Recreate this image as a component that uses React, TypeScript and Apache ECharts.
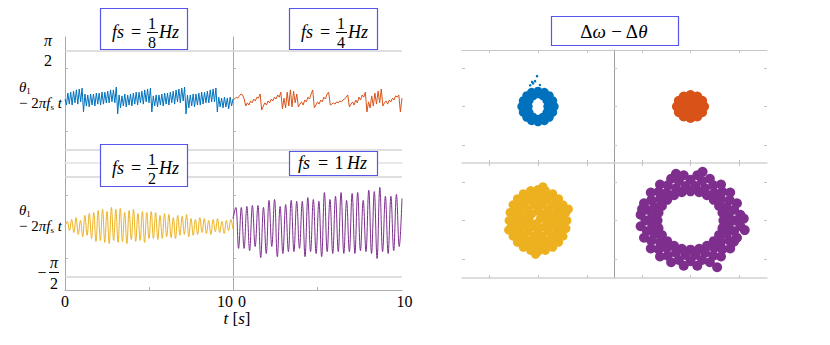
import React, { useEffect, useRef } from 'react';
import * as echarts from 'echarts';

const SERIF = '"Liberation Serif", "DejaVu Serif", serif';
const BOX = '#5656ee';

// time axis (s)
const timeSpan = [0, 10];
const timeTickLabels = [0, 10];
const timeInnerTicks = [5];
const thetaTicks = [-1, 1];
const halfPi = Math.PI / 2;

const blueTheta = [
  0.03, -0.16, 0.22, -0.13, 0.25, -0.16, 0.28, -0.09, 0.32, -0.13, 0.35, -0.06, 0.38, -0.38,
  0.19, -0.19, 0.16, -0.22, 0.19, -0.16, 0.19, -0.19, 0.22, -0.13, 0.22, -0.16, 0.25, -0.13, 0.25, -0.09, 0.28, -0.09, 0.32, -0.06, 0.32, -0.09, 0.41, -0.44,
  0.16, -0.25, 0.13, -0.19, 0.19, -0.22, 0.16, -0.16, 0.19, -0.19, 0.22, -0.13, 0.25, -0.16, 0.25, -0.09, 0.28, -0.13, 0.32, -0.06, 0.35, -0.09, 0.38, -0.38,
  0.13, -0.19, 0.16, -0.22, 0.16, -0.16, 0.19, -0.19, 0.22, -0.13, 0.22, -0.16, 0.25, -0.09, 0.28, -0.13, 0.32, -0.06, 0.35, -0.09, 0.38, -0.03, 0.41, -0.44,
  0.16, -0.25, 0.16, -0.19, 0.19, -0.22, 0.19, -0.16, 0.22, -0.16, 0.25, -0.13, 0.25, -0.09, 0.28, -0.09, 0.32, -0.06, 0.35, -0.06, 0.38, -0.38,
  0.09, -0.22, 0.06, -0.25, 0.09, -0.22, 0.06, -0.28, 0.09, -0.19, 0.03,
];
const orangeTheta = [
  0, 0.03, 0.09, 0.06, 0.13, 0.19, 0.16, 0.03, -0.19,
  -0.09, -0.16, -0.03, -0.09, 0.03, -0.03, 0.09, 0.06, 0.19, -0.32,
  -0.19, -0.09, -0.16, -0.03, -0.09, 0.03, -0.03, 0.09, 0.03, 0.16, 0.09, 0.25, -0.28,
  0.06, -0.25, 0.25, -0.19, 0.32, -0.22, 0.28, -0.09, 0.19, -0.22,
  -0.13, -0.06, -0.16, 0, -0.06, 0.09, 0.03, 0.19, 0.32, -0.25,
  -0.16, -0.06, -0.13, 0, -0.06, 0.09, 0.03, 0.19, 0.25, -0.16,
  -0.13, -0.09, -0.13, -0.06, -0.09, -0.03, -0.06, 0, 0.03, 0.09, 0.16, -0.22,
  -0.13, -0.06, -0.16, 0, -0.09, 0.09, 0, 0.16, 0.09, 0.25, -0.38,
  -0.06, -0.25, 0.13, -0.19, 0.22, -0.13, 0.28, -0.09, 0.35, -0.19,
  -0.09, -0.03, -0.13, 0, -0.06, 0.06, 0, 0.13, 0.09, 0.16, -0.38, 0.06,
];
const yellowTheta = [
  0, 0.16, -0.13, 0.22, -0.19, 0.28, -0.25, 0.19, -0.32, 0.35,
  -0.28, 0.41, -0.38, 0.44, -0.47, 0.5, -0.44, 0.54, -0.5, 0.47,
  -0.54, 0.6, -0.44, 0.54, -0.5, 0.57, -0.47, 0.44, -0.54, 0.5,
  -0.41, 0.54, -0.47, 0.41, -0.44, 0.47, -0.5, 0.44, -0.38, 0.47,
  -0.38, 0.44, -0.41, 0.35, -0.38, 0.41, -0.32, 0.38, -0.35, 0.28,
  -0.38, 0.35, -0.28, 0.32, -0.25, 0.38, -0.32, 0.25, -0.28, 0.22,
  -0.25, 0.28, -0.19, 0.25, -0.22, 0.19, -0.25, 0.22, -0.16, 0.25,
  -0.19, 0.16, -0.22, 0.19, -0.13, 0.22, -0.09,
];
const purpleTheta = [
  0.25, 0.6, -0.69, 0.6, -0.69, 0.63, -0.76, 0.66, -0.63, 0.66,
  -0.98, 0.6, -0.85, 0.82, -0.63, 0.85, -0.95, 0.63, -0.85, 0.69,
  -0.79, 0.82, -0.79, 0.79, -0.69, 0.79, -0.95, 0.91, -0.79, 0.85,
  -0.85, 0.79, -0.95, 1.07, -0.79, 0.85, -0.85, 0.95, -0.79, 1.07,
  -0.85, 0.82, -0.79, 1.04, -0.85, 1.07, -0.76, 0.82, -0.79, 1.14,
  -0.85, 1.1, -1.01, 1.23, -0.79, 0.95, -0.85, 0.95, -0.76, 1.01,
  -0.63, 0.88,
];

// phase-plane clouds (Δθ, Δω)
const blueCloudX = [0.2, 0.18, 0.1, 0, -0.1, -0.18, -0.2, -0.18, -0.1, 0, 0.1, 0.18,
  0.33, 0.3, 0.23, 0.13, 0, -0.13, -0.23, -0.3, -0.33, -0.3, -0.23, -0.13, 0, 0.13, 0.23, 0.3];
const blueCloudY = [0, 0.16, 0.28, 0.33, 0.28, 0.16, 0, -0.16, -0.28, -0.33, -0.28, -0.16,
  0, 0.15, 0.28, 0.37, 0.4, 0.37, 0.28, 0.15, 0, -0.15, -0.28, -0.37, -0.4, -0.37, -0.28, -0.15];
const blueStrayX = [-0.12, -0.1, -0.06, -0.02, -0.16, 0.04];
const blueStrayY = [0.64, 0.6, 0.66, 0.79, 0.55, 0.56];

const orangeCloudX = [0, 0.14, 0.07, -0.07, -0.14, -0.07, 0.07,
  0.28, 0.24, 0.14, 0, -0.14, -0.24, -0.28, -0.24, -0.14, 0, 0.14, 0.24];
const orangeCloudY = [0, 0, 0.14, 0.14, 0, -0.14, -0.14,
  0, 0.15, 0.26, 0.3, 0.26, 0.15, 0, -0.15, -0.26, -0.3, -0.26, -0.15];

const yellowCloudX = [
  0.18, 0.13, 0, -0.13, -0.18, -0.13, 0, 0.13,
  0.29, 0.21, 0.08, -0.08, -0.21, -0.29, -0.29, -0.21, -0.08, 0.08, 0.21, 0.29,
  0.41, 0.38, 0.29, 0.16, 0, -0.16, -0.29, -0.38, -0.41, -0.38, -0.29, -0.16, 0, 0.16, 0.29, 0.38,
  0.5, 0.45, 0.36, 0.23, 0.08, -0.08, -0.23, -0.36, -0.45, -0.5, -0.5, -0.45, -0.36, -0.23, -0.08, 0.08, 0.23, 0.36, 0.45, 0.5,
  0.59, 0.57, 0.51, 0.42, 0.3, 0.15, 0, -0.15, -0.3, -0.42, -0.51, -0.57, -0.59, -0.57, -0.51, -0.42, -0.3, -0.15, 0, 0.15, 0.3, 0.42, 0.51, 0.57,
  0.05, -0.03, 0.62, -0.6, 0.1, -0.05,
];
const yellowCloudY = [
  0, 0.17, 0.24, 0.17, 0, -0.17, -0.24, -0.17,
  0.11, 0.29, 0.4, 0.4, 0.29, 0.11, -0.11, -0.29, -0.4, -0.4, -0.29, -0.11,
  0, 0.22, 0.4, 0.52, 0.57, 0.52, 0.4, 0.22, 0, -0.22, -0.4, -0.52, -0.57, -0.52, -0.4, -0.22,
  0.11, 0.31, 0.49, 0.61, 0.68, 0.68, 0.61, 0.49, 0.31, 0.11, -0.11, -0.31, -0.49, -0.61, -0.68, -0.68, -0.61, -0.49, -0.31, -0.11,
  0, 0.21, 0.41, 0.57, 0.7, 0.78, 0.81, 0.78, 0.7, 0.57, 0.41, 0.21, 0, -0.21, -0.41, -0.57, -0.7, -0.78, -0.81, -0.78, -0.7, -0.57, -0.41, -0.21,
  0.05, -0.08, 0.3, -0.25, 0.88, -0.88,
];

const purpleCloudX = [
  0.68, 0.66, 0.59, 0.48, 0.34, 0.18, 0, -0.18, -0.34, -0.48, -0.59, -0.66, -0.68, -0.66, -0.59, -0.48, -0.34, -0.18, 0, 0.18, 0.34, 0.48, 0.59, 0.66,
  0.79, 0.74, 0.63, 0.49, 0.3, 0.1, -0.1, -0.3, -0.49, -0.63, -0.74, -0.79, -0.79, -0.74, -0.63, -0.49, -0.3, -0.1, 0.1, 0.3, 0.49, 0.63, 0.74, 0.79,
  0.93, 0.9, 0.81, 0.66, 0.47, 0.24, 0, -0.24, -0.47, -0.66, -0.81, -0.9, -0.93, -0.9, -0.81, -0.66, -0.47, -0.24, 0, 0.24, 0.47, 0.66, 0.81, 0.9,
  1.03, 0.96, 0.82, 0.63, 0.4, 0.14, -0.14, -0.4, -0.63, -0.82, -0.96, -1.03, -1.03, -0.96, -0.82, -0.63, -0.4, -0.14, 0.14, 0.4, 0.63, 0.82, 0.96, 1.03,
  1.1, 1.12, 0.25, -0.3, 0.55, -1.0, 0.9,
];
const purpleCloudY = [
  0, 0.2, 0.38, 0.54, 0.66, 0.74, 0.76, 0.74, 0.66, 0.54, 0.38, 0.2, 0, -0.2, -0.38, -0.54, -0.66, -0.74, -0.76, -0.74, -0.66, -0.54, -0.38, -0.2,
  0.12, 0.35, 0.56, 0.72, 0.84, 0.9, 0.9, 0.84, 0.72, 0.56, 0.35, 0.12, -0.12, -0.35, -0.56, -0.72, -0.84, -0.9, -0.9, -0.84, -0.72, -0.56, -0.35, -0.12,
  0, 0.28, 0.53, 0.75, 0.92, 1.03, 1.06, 1.03, 0.92, 0.75, 0.53, 0.28, 0, -0.28, -0.53, -0.75, -0.92, -1.03, -1.06, -1.03, -0.92, -0.75, -0.53, -0.28,
  0.15, 0.45, 0.73, 0.94, 1.09, 1.18, 1.18, 1.09, 0.94, 0.73, 0.45, 0.15, -0.15, -0.45, -0.73, -0.94, -1.09, -1.18, -1.18, -1.09, -0.94, -0.73, -0.45, -0.15,
  0.05, -0.25, 1.27, 1.22, -1.22, 0.3, -0.55,
];
const cloudTicks = [-1, 0, 1];

const toXY = (vals: number[]) =>
  vals.map((v, i) => [timeSpan[0] + (i * (timeSpan[1] - timeSpan[0])) / (vals.length - 1), v]);
const zip = (xs: number[], ys: number[]) => xs.map((x, i) => [x, ys[i]]);

function txt(x: number, y: number, text: string, o: any = {}) {
  const align = o.align || 'center';
  return {
    type: 'text', x, y, z: 101, silent: true,
    style: {
      text, fill: '#000', fontFamily: SERIF, fontSize: o.size || 16,
      fontStyle: o.italic ? 'italic' : 'normal',
      align, textAlign: align, verticalAlign: 'middle', textVerticalAlign: 'middle',
      lineHeight: o.lineHeight, rich: o.rich,
    },
  };
}
function hline(x1: number, x2: number, y: number) {
  return { type: 'line', z: 101, silent: true, shape: { x1, y1: y, x2, y2: y }, style: { stroke: '#000', lineWidth: 1 } };
}
function rect(x: number, y: number, w: number, h: number) {
  return { type: 'rect', z: 100, silent: true, shape: { x: x + 0.5, y: y + 0.5, width: w, height: h }, style: { fill: '#fff', stroke: BOX, lineWidth: 1.2 } };
}
function fsBox(x0: number, y0: number, w: number, h: number, num: string, den: string) {
  const my = y0 + 24;
  return [
    rect(x0, y0, w, h),
    txt(x0 + 12, my, 'fs', { italic: true, align: 'left', size: 18 }),
    txt(x0 + 36, my, '=', { size: 18 }),
    txt(x0 + 52, my - 9, num, { size: 16, lineHeight: 14 }),
    hline(x0 + 47, x0 + 58, my + 0.5),
    txt(x0 + 52, my + 10, den, { size: 16, lineHeight: 14 }),
    txt(x0 + 59, my, 'Hz', { italic: true, align: 'left', size: 18 }),
  ];
}

const subRich = {
  r: { fontFamily: SERIF, fontSize: 15, lineHeight: 16, verticalAlign: 'middle' },
  i: { fontFamily: SERIF, fontSize: 15, fontStyle: 'italic', lineHeight: 16, verticalAlign: 'middle' },
  s: { fontFamily: SERIF, fontSize: 9, lineHeight: 9, verticalAlign: 'bottom' },
};

// two-line label "θ1 / − 2π fs t" as one rich text
function thetaLabel(yMid: number) {
  return txt(19, yMid, '{i|θ}{s|1}\n{r|− 2}{i|πf}{s|s}{r| }{i|t}', { align: 'left', rich: subRich });
}

export default function App() {
  const ref = useRef<HTMLDivElement>(null);
  useEffect(() => {
    document.body.style.margin = '0';
    const chart = echarts.init(ref.current!, undefined, { renderer: 'svg' });

    const grids = [
      { left: 65, top: 37, width: 168, height: 126 },
      { left: 233, top: 37, width: 169, height: 126 },
      { left: 65, top: 163, width: 168, height: 127 },
      { left: 233, top: 163, width: 169, height: 127 },
      { left: 462, top: 50, width: 152, height: 113 },
      { left: 614, top: 50, width: 153, height: 113 },
      { left: 462, top: 163, width: 152, height: 115 },
      { left: 614, top: 163, width: 153, height: 115 },
    ].map((g) => ({ ...g, containLabel: false, outerBoundsMode: 'none', show: false }));

    const noLabel = { show: false };
    const noSplit = { show: false };
    const timeX = (gi: number, bottom: boolean, alignEnd: string | null) => ({
      type: 'value', gridIndex: gi, min: timeSpan[0], max: timeSpan[1],
      axisLine: bottom
        ? { show: true, onZero: false, lineStyle: { color: '#b0b0b0', width: 1 } }
        : { show: true, onZero: false, lineStyle: { color: '#e3e3e3', width: 1.5 } },
      axisTick: bottom
        ? { show: true, inside: true, length: 3, customValues: timeInnerTicks, lineStyle: { color: '#b0b0b0' } }
        : { show: false },
      axisLabel: bottom
        ? {
            show: true, customValues: timeTickLabels, formatter: (v: number) => String(v),
            fontFamily: SERIF, fontSize: 16, color: '#000', margin: 3,
            ...(alignEnd === 'max' ? { alignMaxLabel: 'right' } : {}),
            ...(alignEnd === 'min' ? { alignMinLabel: 'left', padding: [0, 0, 0, 5] } : {}),
          }
        : noLabel,
      splitLine: noSplit,
    });
    const timeY = (gi: number) => ({
      type: 'value', gridIndex: gi, min: -2, max: 2,
      axisLine: { show: true, onZero: false, lineStyle: { color: '#a8a8a8', width: 1 } },
      axisTick: { show: true, inside: true, length: 3, customValues: thetaTicks, lineStyle: { color: '#b8b8b8' } },
      axisLabel: noLabel, splitLine: noSplit,
    });
    const cloudAxis = (gi: number, pos: string, min: number, max: number, line: any) => ({
      type: 'value', gridIndex: gi, position: pos, min, max,
      axisLine: line ? { show: true, onZero: false, lineStyle: line } : { show: false, onZero: false },
      axisTick: { show: true, inside: true, length: 3, customValues: cloudTicks, lineStyle: { color: '#c4c4c4' } },
      axisLabel: noLabel, splitLine: noSplit,
    });
    const hLine = { color: '#d2d2d2', width: 1.5 };
    const topLine = { color: '#c6c6c6', width: 1 };
    const vLine = { color: '#9c9c9c', width: 1 };

    const xAxis = [
      timeX(0, false, null), timeX(1, false, null), timeX(2, true, 'max'), timeX(3, true, 'min'),
      cloudAxis(4, 'bottom', -1.55, 1.55, hLine), cloudAxis(5, 'bottom', -1.58, 1.58, hLine),
      cloudAxis(6, 'bottom', -1.55, 1.55, hLine), cloudAxis(7, 'bottom', -1.58, 1.58, hLine),
      cloudAxis(4, 'top', -1.55, 1.55, topLine), cloudAxis(5, 'top', -1.58, 1.58, topLine),
      cloudAxis(6, 'top', -1.55, 1.55, null), cloudAxis(7, 'top', -1.58, 1.58, null),
    ];
    const yAxis = [
      timeY(0), timeY(1), timeY(2), timeY(3),
      cloudAxis(4, 'left', -1.47, 1.47, null), cloudAxis(5, 'left', -1.47, 1.47, vLine),
      cloudAxis(6, 'left', -1.5, 1.5, null), cloudAxis(7, 'left', -1.5, 1.5, vLine),
      cloudAxis(5, 'right', -1.47, 1.47, null), cloudAxis(7, 'right', -1.5, 1.5, null),
    ];

    const piLines = {
      silent: true, symbol: 'none', label: { show: false },
      lineStyle: { color: '#d4d4d4', width: 1.5, type: 'solid' },
      data: [{ yAxis: halfPi }, { yAxis: -halfPi }],
    };
    const line = (idx: number, vals: number[], color: string, smooth: number | boolean) => ({
      type: 'line', xAxisIndex: idx, yAxisIndex: idx, data: toXY(vals),
      showSymbol: false, symbol: 'none', smooth, silent: true,
      lineStyle: { color, width: 1 }, markLine: piLines,
    });
    const cloud = (idx: number, data: number[][], color: string, size: number) => ({
      type: 'scatter', xAxisIndex: idx, yAxisIndex: idx, data, symbol: 'circle', symbolSize: size,
      silent: true, itemStyle: { color, opacity: 1 },
    });

    const graphic = [
      ...fsBox(100, 8, 87, 41, '1', '8'),
      ...fsBox(289, 8, 88, 41, '1', '4'),
      ...fsBox(100, 144, 87, 42, '1', '2'),
      rect(289, 151, 88, 24),
      txt(298, 163, 'fs', { italic: true, align: 'left', size: 18 }),
      txt(323, 163, '=', { size: 18 }),
      txt(339, 163, '1', { size: 18 }),
      txt(347, 163, 'Hz', { italic: true, align: 'left', size: 18 }),
      rect(551, 16, 127, 29),
      txt(614, 31, '{r|Δ}{i|ω}{r| − Δ}{i|θ}', {
        rich: {
          r: { fontFamily: SERIF, fontSize: 19 },
          i: { fontFamily: SERIF, fontSize: 19, fontStyle: 'italic' },
        },
      }),
      txt(48, 40, 'π', { italic: true, lineHeight: 14 }),
      txt(48, 60, '2', { lineHeight: 14 }),
      thetaLabel(95),
      thetaLabel(218),
      txt(42, 272, '−', { lineHeight: 12 }),
      txt(54, 262, 'π', { italic: true, lineHeight: 14 }),
      hline(49, 59, 272.5),
      txt(54, 283, '2', { lineHeight: 14 }),
      txt(237, 318, '{i|t}{r| [}{i|s}{r|]}', {
        rich: {
          r: { fontFamily: SERIF, fontSize: 17 },
          i: { fontFamily: SERIF, fontSize: 17, fontStyle: 'italic' },
        },
      }),
    ];

    chart.setOption({
      animation: false,
      backgroundColor: '#fff',
      grid: grids,
      xAxis,
      yAxis,
      graphic,
      series: [
        line(0, blueTheta, '#0072BD', false),
        line(1, orangeTheta, '#D95319', false),
        line(2, yellowTheta, '#EDB120', 0.4),
        line(3, purpleTheta, '#7E2F8E', 0.4),
        cloud(4, zip(blueCloudX, blueCloudY), '#0072BD', 9),
        cloud(4, zip(blueStrayX, blueStrayY), '#0072BD', 2.5),
        cloud(5, zip(orangeCloudX, orangeCloudY), '#D95319', 10),
        cloud(6, zip(yellowCloudX, yellowCloudY), '#EDB120', 9),
        cloud(7, zip(purpleCloudX, purpleCloudY), '#7E2F8E', 10),
      ],
    });
    return () => chart.dispose();
  }, []);
  return <div ref={ref} style={{ width: 830, height: 345 }} />;
}
